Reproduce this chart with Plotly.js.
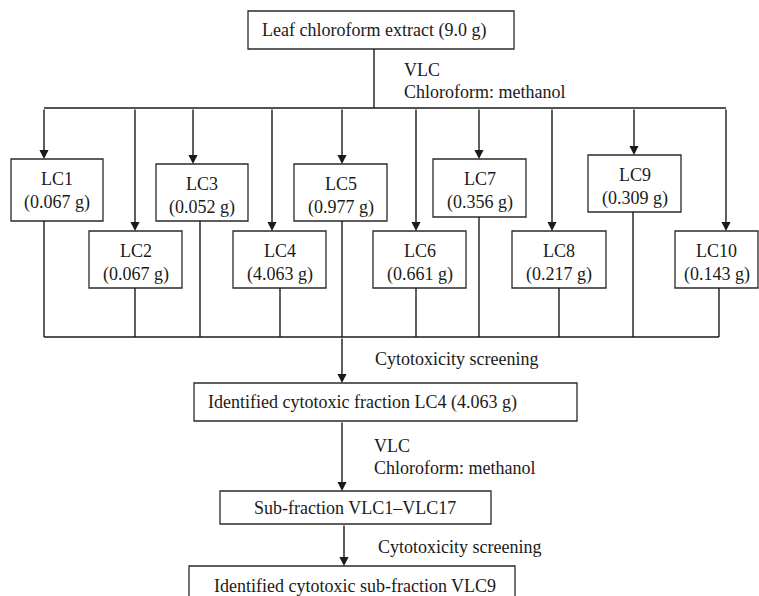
<!DOCTYPE html>
<html>
<head>
<meta charset="utf-8">
<script src="https://cdn.plot.ly/plotly-3.0.1.min.js"></script>
<style>html,body{margin:0;padding:0;background:#fff;}#chart{width:759px;height:596px;}</style>
</head>
<body>
<div id="chart"></div>
<script>
// ---- content (data) ----
const extractLabel = 'Leaf chloroform extract';
const extractMass = 9.0;
const fractionNames = ['LC1','LC2','LC3','LC4','LC5','LC6','LC7','LC8','LC9','LC10'];
const fractionMasses = [0.067, 0.067, 0.052, 4.063, 0.977, 0.661, 0.356, 0.217, 0.309, 0.143];
const methodLabels = ['VLC', 'Chloroform: methanol'];
const screeningLabel = 'Cytotoxicity screening';
const selectedFraction = 'LC4';
const subFractionLabel = 'Sub-fraction VLC1\u2013VLC17';
const finalLabel = 'Identified cytotoxic sub-fraction VLC9';

// ---- layout geometry (pixel positions) ----
const boxLeft   = [11, 89, 156, 233, 294, 373, 433, 512, 588, 675];
const boxRight  = [103, 182, 248, 326, 387, 466, 526, 606, 681, 758];
const boxTop    = [159, 231, 164, 231, 164, 231, 159, 231, 155, 231];
const boxBottom = [221, 288, 221, 288, 221, 288, 217, 288, 212, 288];
const arrowX    = [44, 135, 193, 272, 342, 416, 479, 552, 634, 726];
const connX     = [44, 135, 200, 280, 342, 416, 479, 559, 633, 719];

const FONT = {family: 'Liberation Serif', size: 18, color: '#1a1a1a'};
const LINE = {color: '#1a1a1a', width: 1.4};
const BOXLINE = {color: '#2a2a2a', width: 1.3};

const shapes = [];
const annotations = [];

function rect(x0, y0, x1, y1) {
  shapes.push({type: 'rect', xref: 'x', yref: 'y', x0, y0, x1, y1, line: BOXLINE, fillcolor: 'rgba(0,0,0,0)'});
}
function seg(x0, y0, x1, y1) {
  shapes.push({type: 'line', xref: 'x', yref: 'y', x0, y0, x1, y1, line: LINE});
}
function arrow(x, y0, y1) {
  annotations.push({x: x, y: y1, ax: x, ay: y0, xref: 'x', yref: 'y', axref: 'x', ayref: 'y',
    text: '', showarrow: true, arrowhead: 2, arrowsize: 1.3, arrowwidth: 1.4, arrowcolor: '#1a1a1a', standoff: 0, startstandoff: 0});
}
function label(text, x, y, anchor) {
  annotations.push({x, y, xref: 'x', yref: 'y', text, showarrow: false, font: FONT,
    xanchor: anchor || 'center', yanchor: 'middle'});
}

// top box
rect(248, 11, 514, 49);
label(extractLabel + ' (' + extractMass.toFixed(1) + ' g)', 374, 30);
seg(374, 49, 374, 108);
seg(44, 108, 726, 108);
label(methodLabels[0], 402, 70, 'left');
label(methodLabels[1], 402, 92, 'left');

// fractions
fractionNames.forEach((name, i) => {
  rect(boxLeft[i], boxTop[i], boxRight[i], boxBottom[i]);
  const cx = (boxLeft[i] + boxRight[i]) / 2;
  label(name, cx, boxTop[i] + 20);
  label('(' + fractionMasses[i].toFixed(3) + ' g)', cx, boxTop[i] + 43);
  arrow(arrowX[i], 108, boxTop[i]);
  seg(connX[i], boxBottom[i], connX[i], 337);
});
seg(44, 337, 719, 337);

// screening -> identified fraction
const selIdx = fractionNames.indexOf(selectedFraction);
arrow(342, 337, 383);
label(screeningLabel, 373, 359, 'left');
rect(194, 383, 577, 421);
label('Identified cytotoxic fraction ' + selectedFraction + ' (' + fractionMasses[selIdx].toFixed(3) + ' g)', 362, 402);

// VLC -> sub-fractions
arrow(342, 421, 491);
label(methodLabels[0], 372, 446, 'left');
label(methodLabels[1], 372, 468, 'left');
rect(220, 491, 491, 524);
label(subFractionLabel, 355, 508);

// screening -> final
arrow(344, 524, 566);
label(screeningLabel, 376, 547, 'left');
rect(189, 566, 515, 620);
label(finalLabel, 355, 586);

const layout = {
  width: 759, height: 596,
  margin: {l: 0, r: 0, t: 0, b: 0},
  paper_bgcolor: '#ffffff', plot_bgcolor: '#ffffff',
  showlegend: false,
  xaxis: {range: [0, 759], visible: false, fixedrange: true},
  yaxis: {range: [596, 0], visible: false, fixedrange: true},
  shapes, annotations
};

Plotly.newPlot('chart', [{x: [], y: [], type: 'scatter', mode: 'markers', hoverinfo: 'skip'}], layout, {staticPlot: true, displayModeBar: false});
</script>
</body>
</html>
